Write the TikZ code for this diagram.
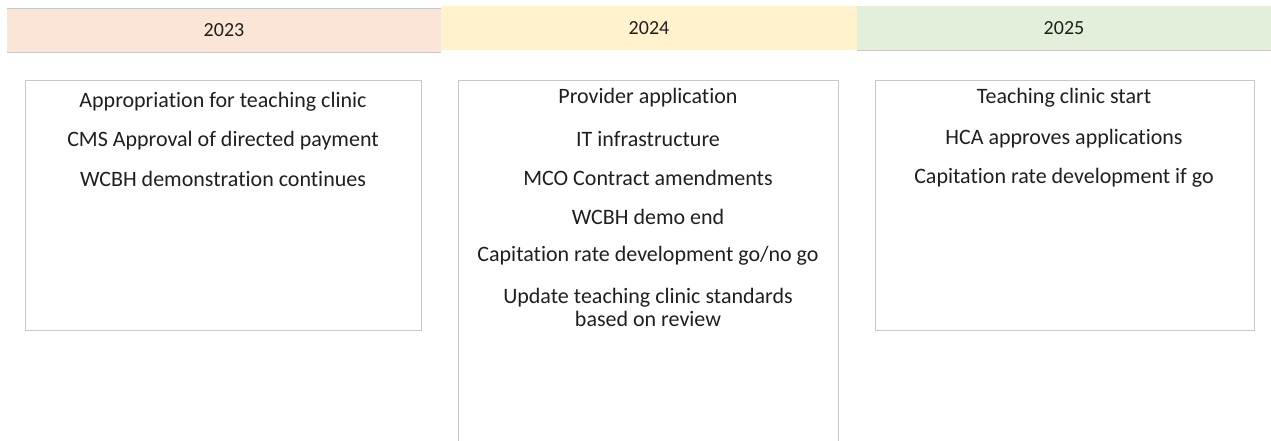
\documentclass[tikz,border=0pt]{standalone}
\usepackage{fontspec}
\setmainfont{Carlito}[Ligatures=NoCommon]
\usetikzlibrary{positioning}

\definecolor{peach}{HTML}{FBE5D6}
\definecolor{cream}{HTML}{FFF2CC}
\definecolor{sage}{HTML}{E2EFDA}
\definecolor{rule}{HTML}{C8C8C8}

\tikzset{
  item/.style={font=\fontsize{22}{23}\selectfont, text=black!88, align=center},
  year/.style={font=\fontsize{20}{22}\selectfont, text=black!88}
}

\begin{document}
\begin{tikzpicture}[x=1pt, y=-1pt]
\useasboundingbox (0,0) rectangle (1271,441);

% year bands
\fill[peach] (7,8) rectangle (441,52);
\draw[rule] (7,8) -- (441,8);
\draw[rule] (7,52) -- (441,52);
\node[year] (y2023) at (224,30) {2023};

\fill[cream] (441,6) rectangle (857,50);
\node[year] (y2024) at (649,28) {2024};

\fill[sage] (857,6) rectangle (1271,50);
\draw[rule] (857,50) -- (1271,50);
\node[year] (y2025) at (1064,28) {2025};

% 2023
\draw[rule] (25,80) rectangle (421,330);
\node[item] (approp) at (223,102) {Appropriation for teaching clinic};
\node[item] (cms) at (223,141) {CMS Approval of directed payment};
\node[item] (wcbh) at (223,179) {WCBH demonstration continues};

% 2024
\draw[rule] (458,441) |- (838,80) -- (838,441);
\node[item] (provider) at (648,98) {Provider application};
\node[item] (infra) at (648,139) {IT infrastructure};
\node[item] (mco) at (648,178) {MCO Contract amendments};
\node[item] (demoend) at (648,217) {WCBH demo end};
\node[item] (gonogo) at (648,256) {Capitation rate development go/no go};
\node[item] (update) at (648,307) {Update teaching clinic standards\\based on review};

% 2025
\draw[rule] (875,80) rectangle (1254,330);
\node[item] (start) at (1064,98) {Teaching clinic start};
\node[item] (hca) at (1064,139) {HCA approves applications};
\node[item] (ifgo) at (1064,178) {Capitation rate development if go};

\end{tikzpicture}
\end{document}
